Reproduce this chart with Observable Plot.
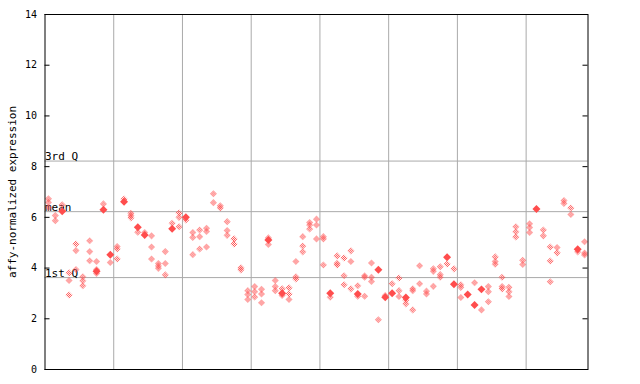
<!DOCTYPE html>
<html>
<head>
<meta charset="utf-8">
<script src="https://cdn.jsdelivr.net/npm/d3@7"></script>
<script src="https://cdn.jsdelivr.net/npm/@observablehq/plot@0.6"></script>
<style>
  html, body { margin: 0; padding: 0; background: #fff; }
  #chart svg { display: block; }
</style>
</head>
<body>
<div id="chart"></div>
<script>
// hollow (checkered) points per sample column
const hollow = [
  [6.73, 6.59, 6.39], [6.07, 5.87], [6.50], [3.81, 3.51, 2.94], [4.95, 4.69, 3.94],
  [3.66, 3.50, 3.30], [5.08, 4.65, 4.29], [4.26, 3.94, 3.79], [6.53], [4.22],
  [4.85, 4.75, 4.36], [6.72], [6.16, 6.07, 5.98], [5.41], [5.40],
  [5.27, 4.83, 4.36], [4.18, 4.08, 3.99], [4.65, 4.18, 3.73], [5.77], [6.17, 6.00, 5.63],
  [5.90], [5.40, 5.21, 4.53], [5.50, 5.24, 4.75], [5.57, 5.44, 4.83], [6.93, 6.58],
  [6.46, 6.37], [5.83, 5.48, 5.29], [5.15, 4.95], [4.01, 3.93], [3.11, 2.96, 2.76],
  [3.27, 3.07, 2.86], [3.16, 2.98, 2.63], [5.19, 4.93], [3.51, 3.27, 3.11], [3.18, 2.92],
  [3.22, 2.98, 2.76], [4.26, 3.66, 3.57], [5.24, 4.87, 4.64], [5.80, 5.70, 5.54], [5.93, 5.70, 5.15],
  [5.24, 5.15, 4.12], [2.85], [4.48, 4.19, 4.12], [4.40, 3.70, 3.34], [4.68, 4.26, 3.18],
  [3.30, 2.89], [3.70, 3.64, 2.89], [4.20, 3.64, 3.47], [1.96], [2.92],
  [3.38], [3.61, 3.11, 2.88], [2.74, 2.59], [3.18, 3.11, 2.35], [4.09, 3.38],
  [3.09, 2.98], [3.97, 3.87, 3.28], [4.05, 3.74, 3.64], [4.16], [3.97],
  [3.34, 3.24, 2.84], [], [3.42], [2.35], [3.27, 3.07, 2.67],
  [4.44, 4.26, 4.15], [3.64, 3.27, 3.18], [3.24, 3.07, 2.88], [5.63, 5.43, 5.23], [4.31, 4.14],
  [5.75, 5.60, 5.40], [], [5.50, 5.27], [4.83, 4.28, 3.46], [4.81, 4.60],
  [6.66, 6.55], [6.37, 6.11], [4.64], [5.04, 4.59, 4.52]
];
// solid points per sample column (null = none)
const filled = [
  null, null, 6.24, null, null, null, null, 3.87, 6.30, 4.53,
  null, 6.62, null, 5.61, 5.30, null, null, null, 5.55, null,
  6.00, null, null, null, null, null, null, null, null, null,
  null, null, 5.11, null, 3.01, null, null, null, null, null,
  null, 3.01, null, null, null, 2.98, null, null, 3.93, 2.85,
  3.01, null, 2.84, null, null, null, null, null, 4.43, 3.36,
  null, 2.96, 2.54, 3.16, null, null, null, null, null, null,
  null, 6.33, null, null, null, null, null, 4.74, null
];
const groupBreaks = [10, 20, 30, 40, 50, 60, 70];
const refLabels = ["3rd Q", "mean", "1st Q"];
const refValues = [8.22, 6.225, 3.625];
const yTicks = [0, 2, 4, 6, 8, 10, 12, 14];

const red = "#ff4d4d";
const nCols = hollow.length;
const hollowPts = hollow.flatMap((vals, i) => vals.map(v => ({x: i + 0.5, y: v})));
const filledPts = filled.map((v, i) => v == null ? null : {x: i + 0.5, y: v}).filter(d => d);
const refs = refLabels.map((t, i) => ({label: t, y: refValues[i]}));
const tickLen = 5 / ((587.5 - 44.5) / nCols);

const chart = Plot.plot({
  width: 640,
  height: 384,
  marginLeft: 44.5,
  marginRight: 52.5,
  marginTop: 14,
  marginBottom: 15,
  style: {fontFamily: "'DejaVu Sans Mono', monospace", fontSize: "10px", background: "#fff", color: "#000"},
  x: {domain: [0, nCols], axis: null},
  y: {domain: [0, 14], axis: null},
  marks: [
    Plot.ruleX(groupBreaks, {stroke: "#aaaaaa", strokeWidth: 1}),
    Plot.ruleY(refValues, {stroke: "#aaaaaa", strokeWidth: 1}),
    Plot.ruleY(yTicks, {x1: 0, x2: tickLen, stroke: "#000"}),
    Plot.ruleY(yTicks, {x1: nCols - tickLen, x2: nCols, stroke: "#000"}),
    Plot.axisY({ticks: yTicks, tickSize: 0, tickPadding: 8, tickFormat: d => String(d), label: null, fontSize: 10}),
    Plot.text(refs, {x: 0, y: "y", text: "label", textAnchor: "start", lineAnchor: "bottom", dy: -1, fontSize: 11, fill: "#000"}),
    Plot.text(["affy-normalized expression"], {frameAnchor: "left", dx: -32.5, rotate: -90, textAnchor: "middle", fontSize: 11, fill: "#000"}),
    Plot.dot(hollowPts, {x: "x", y: "y", symbol: "diamond2", r: 3.2, fill: "url(#chk)", stroke: "none"}),
    Plot.dot(filledPts, {x: "x", y: "y", symbol: "diamond2", r: 3.6, fill: red, stroke: "none"}),
    Plot.frame({stroke: "#000", strokeWidth: 1})
  ]
});

const ns = "http://www.w3.org/2000/svg";
const defs = document.createElementNS(ns, "defs");
defs.innerHTML = `<pattern id="chk" width="2" height="2" patternUnits="userSpaceOnUse">
  <rect x="0" y="0" width="1" height="1" fill="${red}"/>
  <rect x="1" y="1" width="1" height="1" fill="${red}"/></pattern>`;
chart.insertBefore(defs, chart.firstChild);
document.getElementById("chart").appendChild(chart);
</script>
</body>
</html>
